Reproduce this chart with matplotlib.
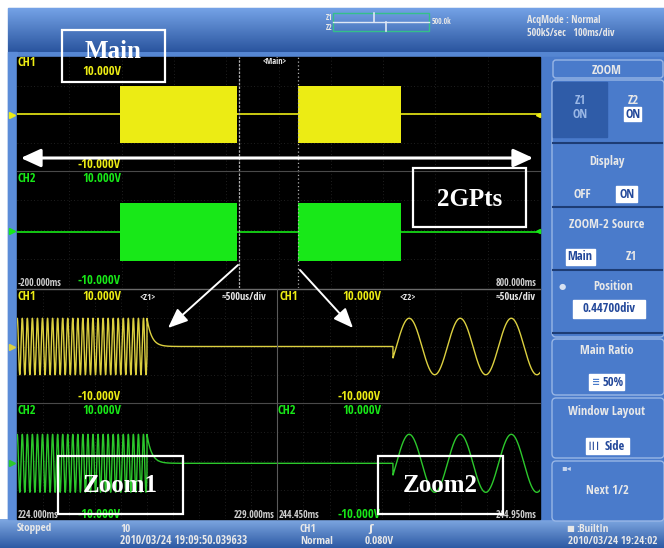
import numpy as np
import matplotlib
matplotlib.use('Agg')
import matplotlib.pyplot as plt
from matplotlib.patches import Rectangle, FancyBboxPatch, FancyArrowPatch
from matplotlib.colors import LinearSegmentedColormap
from matplotlib import font_manager
from matplotlib.font_manager import FontProperties

# ---------------- data ----------------
ch_range_v = [-10.0, 10.0]
main_range_ms = [-200.0, 800.0]
burst_start_ms = [-3.0, 337.0]
burst_end_ms = [221.0, 534.0]
burst_amp_v = 5.0
zoom_marker_ms = [224.0, 337.0]
ch2_offset_v = -0.4

zoom1_range_ms = [224.0, 229.0]
zoom1_burst_end_ms = 226.5
zoom1_decay_tau_ms = 0.09
zoom2_range_ms = [244.45, 244.95]
zoom2_start_ms = 244.6705
zoom2_phase_ref_ms = 244.677
sine_freq_khz = 10.3
sine_amp_v = 5.0

main_labels = ["-200.000ms", "800.000ms"]
zoom1_labels = ["224.000ms", "229.000ms"]
zoom2_labels = ["244.450ms", "244.950ms"]

# ---------------- setup ----------------
W, H = 664, 548
fig = plt.figure(figsize=(W / 100, H / 100), dpi=100)
fig.patch.set_facecolor('white')

# find a condensed sans font if one is installed
COND = None
for f in font_manager.fontManager.ttflist:
    if str(f.stretch) in ('condensed', 'semi-condensed', 'extra-condensed') or 'Narrow' in f.name \
            or 'Condensed' in f.name:
        if 'Serif' in f.name or 'Mono' in f.name:
            continue
        if COND is None or (f.weight in ('bold', 700) and 'Sans' in f.name):
            COND = f.fname
SCALE = 1.0 if COND else 0.86
SERIF = 'Liberation Serif'

YEL = '#ecec14'
YEL_W = '#dcd040'
GRN = '#18e818'
GRN_W = '#2cc82c'
TXT_W = '#e8e8e8'

bg = fig.add_axes([0, 0, 1, 1])
bg.set_xlim(0, W); bg.set_ylim(H, 0); bg.axis('off')


def grad(ax, x0, x1, y0, y1, c_top, c_bot, z=0):
    cm = LinearSegmentedColormap.from_list('g', [c_top, c_bot])
    ax.imshow(np.linspace(0, 1, 64).reshape(-1, 1), extent=(x0, x1, y1, y0),
              origin='upper', cmap=cm, aspect='auto', zorder=z,
              interpolation='bilinear')


def txt(ax, x, y, s, color=TXT_W, size=7, ha='left', va='center',
        family=None, weight='bold', z=5, **kw):
    if family is None and COND:
        fp = FontProperties(fname=COND, size=size)
        ax.text(x, y, s, color=color, ha=ha, va=va, fontproperties=fp, zorder=z, **kw)
    else:
        sz = size * (SCALE if family is None else 1.0)
        ax.text(x, y, s, color=color, fontsize=sz, ha=ha, va=va,
                family=family or 'DejaVu Sans', fontweight=weight, zorder=z, **kw)


# frame
bg.add_patch(Rectangle((8, 8), W - 8, H - 8, color='#5586d2', zorder=0))
grad(bg, 8, W, 8, 52, '#74a2e6', '#2a559f', z=1)
grad(bg, 0, W, 519, H, '#7fa8e2', '#2d5aa4', z=1)
bg.add_patch(Rectangle((8, 52), 9, 467, color='#5b8cd8', zorder=1))
bg.add_patch(Rectangle((540, 57), W - 540, 462, color='#4a7bcb', zorder=1))
bg.add_patch(Rectangle((17, 57), 523, 462, color='black', zorder=2))
bg.set_xlim(0, W); bg.set_ylim(H, 0)

# top indicator
bg.add_patch(Rectangle((333, 13), 96, 18, fill=False, ec='#34c08a', lw=1, zorder=3))
bg.plot([333, 429], [22, 22], color='#dfe8f5', lw=1, zorder=3)
bg.plot([374, 374], [13, 22], color='#dfe8f5', lw=1.2, zorder=3)
bg.plot([386, 386], [22, 31], color='#dfe8f5', lw=1.2, zorder=3)
txt(bg, 326, 17, "Z1", size=5.5)
txt(bg, 326, 27, "Z2", size=5.5)
txt(bg, 432, 21, "500.0k", size=5.5)
txt(bg, 527, 21, "AcqMode : Normal", size=7.2)
txt(bg, 527, 33, "500kS/sec   100ms/div", size=7.2)

# bottom status bar
txt(bg, 17, 529, "Stopped", size=8)
txt(bg, 120, 530, "10", size=8)
txt(bg, 120, 541, "2010/03/24 19:09:50.039633", size=8.3)
txt(bg, 300, 530, "CH1", size=8)
txt(bg, 300, 541, "Normal", size=8)
txt(bg, 368, 529, "ʃ", size=8, family='DejaVu Sans')
txt(bg, 365, 541, "0.080V", size=8)
txt(bg, 566, 529, "■", size=6, family='DejaVu Sans')
txt(bg, 576, 530, ":BuiltIn", size=8)
txt(bg, 568, 541, "2010/03/24 19:24:02", size=8)

# right menu panel
EDGE = '#98b6e6'
DARK = '#1d3c74'
MS = 9
for (y0, y1) in [(80, 337), (339, 395), (398, 458), (461, 521)]:
    bg.add_patch(FancyBboxPatch((552, y0), 112, y1 - y0, boxstyle='round,pad=0,rounding_size=4',
                                fc='#4a7bcb', ec=EDGE, lw=1, zorder=2))
bg.add_patch(FancyBboxPatch((553, 60), 110, 18, boxstyle='round,pad=0,rounding_size=3',
                            fc='#4a7bcb', ec=EDGE, lw=1, zorder=2))
txt(bg, 607, 70, "ZOOM", size=MS, ha='center')
bg.add_patch(Rectangle((553, 82), 54, 55, color='#2f5ca8', zorder=3))
txt(bg, 580, 101, "Z1", size=MS, ha='center', color='#9bb8e6')
txt(bg, 580, 114, "ON", size=MS, ha='center', color='#9bb8e6')
txt(bg, 633, 101, "Z2", size=MS, ha='center')
bg.add_patch(Rectangle((624, 107), 17, 14, color='white', zorder=3))
txt(bg, 633, 114, "ON", size=MS, ha='center', color='#23489a')
for ys in [143, 207, 270, 333]:
    bg.plot([553, 662], [ys, ys], color=DARK, lw=1.5, zorder=3)
txt(bg, 607, 162, "Display", size=MS, ha='center')
txt(bg, 582, 194, "OFF", size=MS, ha='center')
bg.add_patch(Rectangle((616, 186), 21, 16, color='white', zorder=3))
txt(bg, 627, 194, "ON", size=MS, ha='center', color='#23489a')
txt(bg, 607, 224, "ZOOM-2 Source", size=MS, ha='center')
bg.add_patch(Rectangle((566, 249), 29, 16, color='white', zorder=3))
txt(bg, 580, 257, "Main", size=MS, ha='center', color='#23489a')
txt(bg, 631, 257, "Z1", size=MS, ha='center')
txt(bg, 562, 286, "●", size=6, ha='center', family='DejaVu Sans', color='#d8e2f2')
txt(bg, 613, 286, "Position", size=MS, ha='center')
bg.add_patch(Rectangle((573, 300), 72, 18, color='white', zorder=3))
txt(bg, 609, 309, "0.44700div", size=MS, ha='center', color='#23489a')
txt(bg, 607, 350, "Main Ratio", size=MS, ha='center')
bg.add_patch(Rectangle((589, 374), 35, 16, color='white', zorder=3))
txt(bg, 613, 382, "50%", size=MS, ha='center', color='#23489a')
txt(bg, 596, 382, "≡", size=7, ha='center', family='DejaVu Sans', color='#4a7bcb')
txt(bg, 607, 411, "Window Layout", size=MS, ha='center')
bg.add_patch(Rectangle((586, 438), 43, 16, color='white', zorder=3))
txt(bg, 615, 446, "Side", size=MS, ha='center', color='#23489a')
txt(bg, 594, 446, "┃┃┃", size=5, ha='center', family='DejaVu Sans', color='#23489a')
txt(bg, 566, 469, "▪◂", size=6, ha='center', family='DejaVu Sans', color='#c8d6ee')
txt(bg, 607, 491, "Next 1/2", size=MS, ha='center')


# ---------------- waveform axes ----------------
def px_axes(x0, y0, x1, y1, z=3):
    ax = fig.add_axes([x0 / W, 1 - y1 / H, (x1 - x0) / W, (y1 - y0) / H], zorder=z)
    ax.set_facecolor('black')
    ax.patch.set_alpha(0)
    for s in ax.spines.values():
        s.set_visible(False)
    ax.set_xticks([]); ax.set_yticks([])
    ax.set_ylim(*ch_range_v)
    return ax


def grid(ax, xr, ndiv):
    for v in np.linspace(xr[0], xr[1], ndiv + 1)[1:-1]:
        ax.axvline(v, color='#2a2a2a', lw=0.6, ls=(0, (1, 3)), zorder=0)
    for v in [-5, 0, 5]:
        ax.axhline(v, color='#2a2a2a', lw=0.6, ls=(0, (1, 3)), zorder=0)


for (y0, y1, col, off) in [(57, 171, YEL, 0.0), (171, 288, GRN, ch2_offset_v)]:
    ax = px_axes(17, y0, 540, y1)
    ax.set_xlim(*main_range_ms)
    grid(ax, main_range_ms, 10)
    ax.plot(main_range_ms, [off, off], color=col, lw=1.2, zorder=2)
    for s, e in zip(burst_start_ms, burst_end_ms):
        ax.fill_between([s, e], off - burst_amp_v, off + burst_amp_v, color=col, lw=0, zorder=3)
    ax.axvline(zoom_marker_ms[0], color='#b0b0b0', lw=0.9, ls=(0, (2, 1)), zorder=4)
    ax.axvline(zoom_marker_ms[1], color='#b0b0b0', lw=0.9, ls=(0, (1, 2)), zorder=4)

# zoom 1
t1 = np.linspace(zoom1_range_ms[0], zoom1_range_ms[1], 6000)
z1 = np.where(t1 < zoom1_burst_end_ms,
              sine_amp_v * np.sin(2 * np.pi * sine_freq_khz * t1),
              sine_amp_v * np.exp(-(t1 - zoom1_burst_end_ms) / zoom1_decay_tau_ms))
# zoom 2
t2 = np.linspace(zoom2_range_ms[0], zoom2_range_ms[1], 3000)
z2 = np.where(t2 < zoom2_start_ms, 0.0,
              sine_amp_v * np.sin(2 * np.pi * sine_freq_khz * (t2 - zoom2_phase_ref_ms)))

for (x0, x1, tr, sig) in [(17, 277, t1, z1), (277, 540, t2, z2)]:
    for (y0, y1, col, off) in [(290, 403, YEL_W, 0.0), (403, 519, GRN_W, ch2_offset_v)]:
        ax = px_axes(x0, y0, x1, y1)
        ax.set_xlim(tr[0], tr[-1])
        grid(ax, [tr[0], tr[-1]], 10)
        ax.plot(tr, sig + off, color=col, lw=1.0, zorder=2)

# ---------------- screen labels & dividers ----------------
lab = fig.add_axes([0, 0, 1, 1], zorder=6)
lab.set_xlim(0, W); lab.set_ylim(H, 0); lab.axis('off'); lab.patch.set_alpha(0)

lab.plot([17, 540], [171, 171], color='#4a4a4a', lw=0.8)
lab.plot([17, 540], [289, 289], color='#6a6a6a', lw=1.0)
lab.plot([17, 540], [403, 403], color='#4a4a4a', lw=0.8)
lab.plot([277, 277], [289, 519], color='#5a5a5a', lw=0.8)
lab.plot([12], [115], marker='>', color=YEL, ms=4)
lab.plot([12], [231], marker='>', color=GRN, ms=4)
lab.plot([12], [347], marker='>', color=YEL_W, ms=4)
lab.plot([12], [463], marker='>', color=GRN_W, ms=4)
lab.plot([538], [115], marker='<', color=YEL, ms=3)
lab.plot([538], [231], marker='<', color=GRN, ms=3)

S = 9
TS = 7
txt(lab, 18, 63, "CH1", YEL, S)
txt(lab, 121, 65, "10.000V", YEL, S, ha='right', va='top')
txt(lab, 275, 62, "<Main>", TXT_W, 6, ha='center')
txt(lab, 121, 171, "-10.000V", YEL, S, ha='right', va='bottom')
txt(lab, 18, 178, "CH2", GRN, S)
txt(lab, 121, 172, "10.000V", GRN, S, ha='right', va='top')
txt(lab, 18, 283, main_labels[0], '#cfcfcf', TS)
txt(lab, 121, 281, "-10.000V", GRN, S, ha='right')
txt(lab, 537, 283, main_labels[1], '#cfcfcf', TS, ha='right')

txt(lab, 18, 297, "CH1", YEL, S)
txt(lab, 121, 297, "10.000V", YEL, S, ha='right')
txt(lab, 140, 297, "<Z1>", TXT_W, 6.5)
txt(lab, 266, 297, "≈500us/div", TXT_W, 7.5, ha='right')
txt(lab, 280, 297, "CH1", YEL, S)
txt(lab, 381, 297, "10.000V", YEL, S, ha='right')
txt(lab, 399, 297, "<Z2>", TXT_W, 6.5)
txt(lab, 536, 297, "≈50us/div", TXT_W, 7.5, ha='right')

for xr, xl in [(121, 18), (381, 278)]:
    txt(lab, xr, 403, "-10.000V", YEL, S, ha='right', va='bottom')
    txt(lab, xl, 410, "CH2", GRN, S)
    txt(lab, xr, 404, "10.000V", GRN, S, ha='right', va='top')
    txt(lab, xr, 515, "-10.000V", GRN, S, ha='right')
txt(lab, 18, 515, zoom1_labels[0], '#cfcfcf', TS)
txt(lab, 275, 515, zoom1_labels[1], '#cfcfcf', TS, ha='right')
txt(lab, 279, 515, zoom2_labels[0], '#cfcfcf', TS)
txt(lab, 537, 515, zoom2_labels[1], '#cfcfcf', TS, ha='right')

# ---------------- annotation overlay ----------------
ov = fig.add_axes([0, 0, 1, 1], zorder=10)
ov.set_xlim(0, W); ov.set_ylim(H, 0); ov.axis('off'); ov.patch.set_alpha(0)

boxes = [((62, 30, 165, 82), "Main", 51), ((413, 168, 526, 227), "2GPts", 199),
         ((58, 456, 183, 514), "Zoom1", 486), ((378, 456, 503, 514), "Zoom2", 486)]
for (x0, y0, x1, y1), s, yc in boxes:
    ov.add_patch(Rectangle((x0, y0), x1 - x0, y1 - y0, fill=False, ec='white', lw=1.6))
    ov.text((x0 + x1) / 2, yc, s, color='white', fontsize=18,
            family=SERIF, fontweight='bold', ha='center', va='center')

ov.add_patch(FancyArrowPatch((18, 158), (536, 158),
                             arrowstyle='<|-|>,head_length=1.2,head_width=0.55',
                             mutation_scale=10, lw=2.2, color='white'))
for (a, b) in [((238, 265), (168, 328)), ((300, 270), (353, 328))]:
    ov.add_patch(FancyArrowPatch(a, b, arrowstyle='-|>,head_length=1.2,head_width=0.5',
                                 mutation_scale=10, lw=1.4, color='white', shrinkA=0, shrinkB=0))

fig.savefig('out.png', dpi=100, facecolor=fig.get_facecolor())
